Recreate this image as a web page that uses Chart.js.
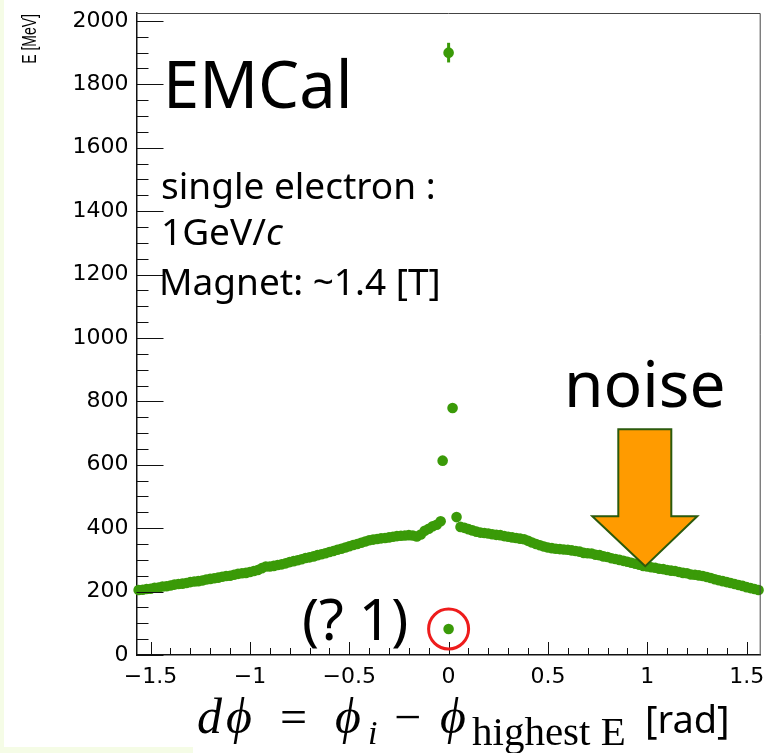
<!DOCTYPE html>
<html>
<head>
<meta charset="utf-8">
<title>EMCal dphi</title>
<script src="https://cdn.jsdelivr.net/npm/chart.js@4/dist/chart.umd.min.js"></script>
<style>
  html, body { margin: 0; padding: 0; background: #ffffff; }
  #wrap { width: 766px; height: 753px; }
</style>
</head>
<body>
<div id="wrap"><canvas id="c" width="766" height="753"></canvas></div>
<script>
// cluster energy vs. d(phi) to the highest-energy cluster
const dphiLeft = [
  -1.56, -1.54, -1.52, -1.50, -1.48, -1.46, -1.44, -1.42, -1.40, -1.38,
  -1.36, -1.34, -1.32, -1.30, -1.28, -1.26, -1.24, -1.22, -1.20, -1.18,
  -1.16, -1.14, -1.12, -1.10, -1.08, -1.06, -1.04, -1.02, -1.00, -0.98,
  -0.96, -0.94, -0.92, -0.90, -0.88, -0.86, -0.84, -0.82, -0.80, -0.78,
  -0.76, -0.74, -0.72, -0.70, -0.68, -0.66, -0.64, -0.62, -0.60, -0.58,
  -0.56, -0.54, -0.52, -0.50, -0.48, -0.46, -0.44, -0.42, -0.40, -0.38,
  -0.36, -0.34, -0.32, -0.30, -0.28, -0.26, -0.24, -0.22, -0.20, -0.18,
  -0.16, -0.14, -0.12, -0.10, -0.08, -0.06, -0.04];
const eLeft = [
  205, 206, 208, 209, 212, 213, 216, 217, 219, 222,
  224, 225, 227, 230, 232, 233, 235, 238, 240, 242,
  244, 247, 249, 250, 253, 256, 258, 259, 262, 265,
  268, 274, 279, 279, 281, 284, 286, 289, 293, 296,
  299, 302, 306, 308, 311, 315, 318, 321, 325, 328,
  332, 335, 339, 343, 347, 350, 354, 358, 362, 364,
  366, 368, 369, 371, 373, 375, 376, 377, 378, 377,
  374, 380, 392, 398, 406, 411, 422];

const dphiRight = [
  0.04, 0.06, 0.08, 0.10, 0.12, 0.14, 0.16, 0.18, 0.20, 0.22,
  0.24, 0.26, 0.28, 0.30, 0.32, 0.34, 0.36, 0.38, 0.40, 0.42,
  0.44, 0.46, 0.48, 0.50, 0.52, 0.54, 0.56, 0.58, 0.60, 0.62,
  0.64, 0.66, 0.68, 0.70, 0.72, 0.74, 0.76, 0.78, 0.80, 0.82,
  0.84, 0.86, 0.88, 0.90, 0.92, 0.94, 0.96, 0.98, 1.00, 1.02,
  1.04, 1.06, 1.08, 1.10, 1.12, 1.14, 1.16, 1.18, 1.20, 1.22,
  1.24, 1.26, 1.28, 1.30, 1.32, 1.34, 1.36, 1.38, 1.40, 1.42,
  1.44, 1.46, 1.48, 1.50, 1.52, 1.54, 1.56];
const eRight = [
  435, 404, 401, 397, 393, 389, 386, 385, 383, 381,
  379, 378, 375, 373, 371, 369, 367, 365, 360, 355,
  350, 346, 342, 339, 337, 335, 334, 333, 332, 330,
  328, 326, 322, 321, 320, 316, 315, 311, 309, 305,
  303, 300, 297, 294, 291, 288, 285, 281, 279, 277,
  275, 272, 271, 268, 266, 265, 262, 259, 258, 254,
  253, 251, 249, 246, 243, 239, 236, 233, 230, 227,
  224, 221, 218, 214, 211, 208, 205];

// points near dphi = 0
const dphiPeak = [-0.03, 0, 0.02, 0];
const ePeak = [613, 1900, 779, 82];
const errPeak = [0, 31, 0, 0];

const xTicks = [-1.5, -1, -0.5, 0, 0.5, 1, 1.5];
const yTicks = [0, 200, 400, 600, 800, 1000, 1200, 1400, 1600, 1800, 2000];

const GREEN = '#3a9a08';

const points = [];
dphiLeft.forEach((v, i) => points.push({ x: v, y: eLeft[i] }));
dphiRight.forEach((v, i) => points.push({ x: v, y: eRight[i] }));
dphiPeak.forEach((v, i) => points.push({ x: v, y: ePeak[i] }));

const overlay = {
  id: 'overlay',
  beforeDraw(chart) {
    const ctx = chart.ctx;
    ctx.save();
    ctx.fillStyle = '#ffffff';
    ctx.fillRect(0, 0, chart.width, chart.height);
    ctx.fillStyle = '#f5fce6';
    ctx.fillRect(0, 0, 4, chart.height);
    ctx.fillRect(0, 747, 193, chart.height - 747);
    ctx.restore();
  },
  afterDraw(chart) {
    const { ctx, chartArea: a, scales: { x, y } } = chart;
    ctx.save();

    // error bars
    ctx.strokeStyle = GREEN;
    ctx.lineWidth = 3;
    dphiPeak.forEach((v, i) => {
      if (!errPeak[i]) return;
      const px = x.getPixelForValue(v);
      ctx.beginPath();
      ctx.moveTo(px, y.getPixelForValue(ePeak[i] - errPeak[i]));
      ctx.lineTo(px, y.getPixelForValue(ePeak[i] + errPeak[i]));
      ctx.stroke();
    });

    // frame top/right
    ctx.strokeStyle = '#444';
    ctx.lineWidth = 1;
    ctx.beginPath();
    ctx.moveTo(a.left, a.top + 0.5);
    ctx.lineTo(a.right - 0.5, a.top + 0.5);
    ctx.lineTo(a.right - 0.5, a.bottom);
    ctx.stroke();

    // inner tick marks
    ctx.strokeStyle = '#111';
    ctx.beginPath();
    for (let v = 0; v <= 2000; v += 50) {
      const py = Math.round(y.getPixelForValue(v)) + 0.5;
      const len = v % 200 === 0 ? 27 : 12;
      ctx.moveTo(a.left, py);
      ctx.lineTo(a.left + len, py);
    }
    for (let k = -15; k <= 15; k++) {
      const px = Math.round(x.getPixelForValue(k / 10)) + 0.5;
      const len = k % 5 === 0 ? 13 : 7;
      ctx.moveTo(px, a.bottom);
      ctx.lineTo(px, a.bottom - len);
    }
    ctx.stroke();

    // y title, ROOT-style at the top of the axis
    ctx.save();
    ctx.translate(36, 14);
    ctx.scale(1.4, 1);
    ctx.rotate(-Math.PI / 2);
    ctx.fillStyle = '#000';
    ctx.font = '14px "Liberation Sans", Arial, sans-serif';
    ctx.textAlign = 'right';
    ctx.textBaseline = 'alphabetic';
    ctx.fillText('E [MeV]', 0, 0);
    ctx.restore();

    // labels
    ctx.fillStyle = '#000';
    ctx.textAlign = 'left';
    ctx.textBaseline = 'alphabetic';
    ctx.font = '65px "Noto Sans", sans-serif';
    ctx.fillText('EMCal', 163, 108);
    ctx.font = '37px "Noto Sans", sans-serif';
    ctx.fillText('single electron :', 161, 199);
    ctx.fillText('1GeV/', 161, 245);
    const w = ctx.measureText('1GeV/').width;
    ctx.font = 'italic 37px "Noto Sans", sans-serif';
    ctx.fillText('c', 161 + w, 245);
    ctx.font = '37px "Noto Sans", sans-serif';
    ctx.fillText('Magnet: ~1.4 [T]', 159, 295);
    ctx.font = '64px "Noto Sans", sans-serif';
    ctx.fillText('noise', 564, 407);
    ctx.font = '57px "Noto Sans", sans-serif';
    ctx.fillText('(? 1)', 302, 640);

    // arrow pointing at the tail
    const tx = x.getPixelForValue(0.99), ty = y.getPixelForValue(280);
    ctx.beginPath();
    ctx.moveTo(tx, ty);
    ctx.lineTo(tx - 53, ty - 50);
    ctx.lineTo(tx - 27, ty - 50);
    ctx.lineTo(tx - 27, ty - 137);
    ctx.lineTo(tx + 26, ty - 137);
    ctx.lineTo(tx + 26, ty - 50);
    ctx.lineTo(tx + 52, ty - 50);
    ctx.closePath();
    ctx.fillStyle = '#ff9b00';
    ctx.fill();
    ctx.strokeStyle = '#2b5a0c';
    ctx.lineWidth = 2;
    ctx.lineJoin = 'miter';
    ctx.stroke();

    // circle around the low point
    ctx.beginPath();
    ctx.arc(x.getPixelForValue(0), y.getPixelForValue(82), 20, 0, Math.PI * 2);
    ctx.strokeStyle = '#ee1c1c';
    ctx.lineWidth = 3;
    ctx.stroke();

    // x title
    ctx.fillStyle = '#000';
    const base = 733;
    const it = 'italic 50px "Liberation Serif", serif';
    const up = '48px "Liberation Serif", serif';
    ctx.font = it;
    ctx.fillText('d', 197, base);
    ctx.fillText('\u03d5', 226, base);
    ctx.font = up;
    ctx.fillText('=', 280, base);
    ctx.font = it;
    ctx.fillText('\u03d5', 335, base);
    ctx.font = 'italic 34px "Liberation Serif", serif';
    ctx.fillText('i', 368, base + 11);
    ctx.font = up;
    ctx.fillText('\u2212', 394, base);
    ctx.font = it;
    ctx.fillText('\u03d5', 440, base);
    ctx.font = '41px "Liberation Serif", serif';
    ctx.fillText('highest E', 472, base + 12);
    ctx.font = '38px "Noto Sans", sans-serif';
    ctx.fillText('[rad]', 645, base);

    ctx.restore();
  }
};

new Chart(document.getElementById('c'), {
  type: 'scatter',
  data: {
    datasets: [{
      data: points,
      backgroundColor: GREEN,
      borderWidth: 0,
      pointRadius: 5.3,
      pointHoverRadius: 5.3,
      clip: false
    }]
  },
  options: {
    responsive: false,
    animation: false,
    layout: { padding: { top: 13, right: 4, left: 0, bottom: 0 } },
    plugins: { legend: { display: false }, tooltip: { enabled: false } },
    scales: {
      x: {
        type: 'linear',
        min: -Math.PI / 2,
        max: Math.PI / 2,
        afterBuildTicks: s => { s.ticks = xTicks.map(v => ({ value: v })); },
        afterFit: s => { s.height = 98; s.paddingLeft = 0; s.paddingRight = 0; },
        grid: { display: false, drawTicks: false },
        border: { display: true, color: '#111', width: 1.5 },
        ticks: {
          color: '#000',
          font: { family: 'DejaVu Sans', size: 22 },
          padding: 9,
          maxRotation: 0,
          autoSkip: false,
          callback: v => v < 0 ? '\u2212' + Math.abs(v) : String(v)
        }
      },
      y: {
        min: 0,
        max: 2025,
        afterBuildTicks: s => { s.ticks = yTicks.map(v => ({ value: v })); },
        afterFit: s => { s.width = 136.5; s.paddingTop = 0; s.paddingBottom = 0; },
        grid: { display: false, drawTicks: false },
        border: { display: true, color: '#111', width: 1.5 },
        ticks: {
          color: '#000',
          font: { family: 'DejaVu Sans', size: 22 },
          padding: 8,
          autoSkip: false,
          callback: v => String(v)
        }
      }
    }
  },
  plugins: [overlay]
});
</script>
</body>
</html>
